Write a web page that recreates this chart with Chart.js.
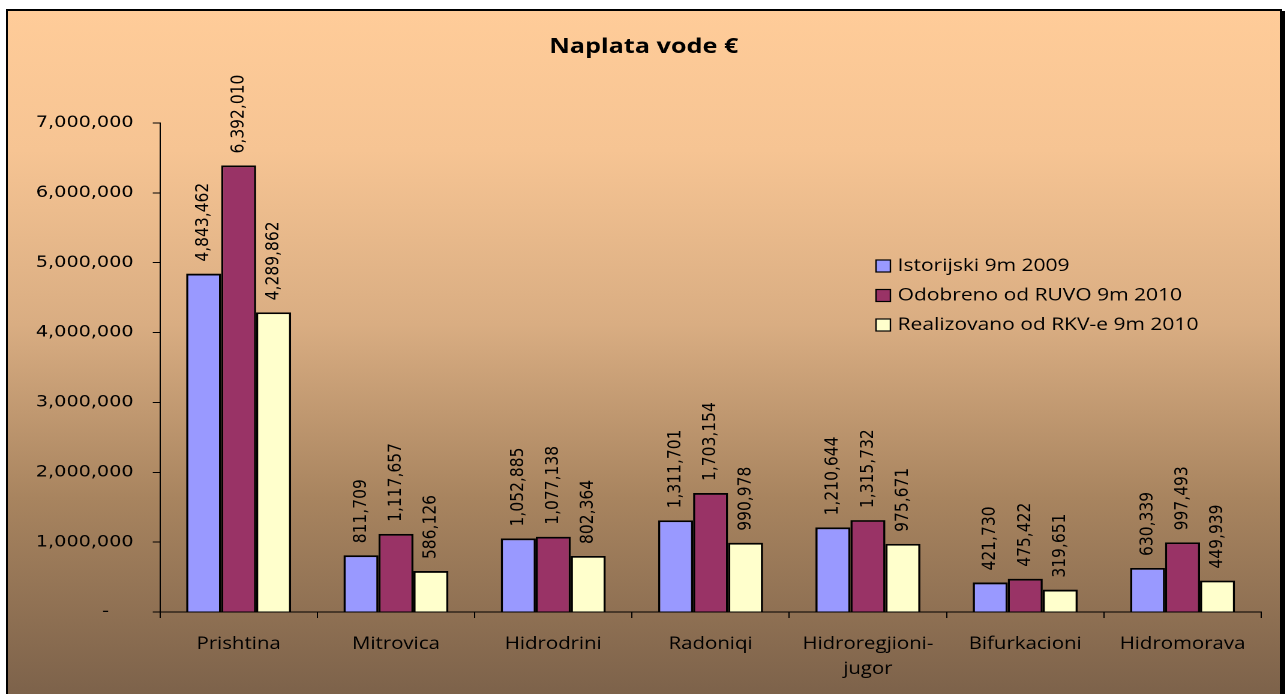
<!DOCTYPE html>
<html>
<head>
<meta charset="utf-8">
<script src="https://cdn.jsdelivr.net/npm/chart.js@4/dist/chart.umd.min.js"></script>
<style>
  html, body { margin: 0; padding: 0; background: #ffffff; overflow: hidden; }
  body { width: 1288px; height: 694px; position: relative; }
  #frame {
    position: absolute; left: 6px; top: 9px; width: 1276px; height: 700px;
    box-sizing: border-box; border: 2px solid #000;
    box-shadow: 3px 2px 0 #000;
    background: linear-gradient(to bottom, #FFCC99 0%, #F6C493 20%, #D9AD82 45%, #A8845F 70%, #7A6049 100%);
  }
  #wrap {
    position: absolute; left: 0; top: 0; width: 1073px; height: 694px;
    transform: scaleX(1.2); transform-origin: 0 0;
  }
</style>
</head>
<body>
<div id="frame"></div>
<div id="wrap"><canvas id="c" width="1073" height="694"></canvas></div>
<script>
const titleText = 'Naplata vode €';
const categories = ['Prishtina', 'Mitrovica', 'Hidrodrini', 'Radoniqi', ['Hidroregjioni-', 'jugor'], 'Bifurkacioni', 'Hidromorava'];
const seriesNames = ['Istorijski 9m 2009', 'Odobreno od RUVO 9m 2010', 'Realizovano od RKV-e 9m 2010'];
const istorijski = [4843462, 811709, 1052885, 1311701, 1210644, 421730, 630339];
const odobreno = [6392010, 1117657, 1077138, 1703154, 1315732, 475422, 997493];
const realizovano = [4289862, 586126, 802364, 990978, 975671, 319651, 449939];
const yTicks = [0, 1000000, 2000000, 3000000, 4000000, 5000000, 6000000, 7000000];
const colors = ['#9999FF', '#993366', '#FFFFCC'];

const fmt = v => v.toLocaleString('en-US');

const labelPlugin = {
  id: 'barLabels',
  afterDatasetsDraw(chart) {
    const ctx = chart.ctx;
    ctx.save();
    ctx.font = '15.5px "DejaVu Sans"';
    ctx.fillStyle = '#000';
    ctx.textAlign = 'left';
    ctx.textBaseline = 'middle';
    chart.data.datasets.forEach((ds, di) => {
      const meta = chart.getDatasetMeta(di);
      meta.data.forEach((bar, i) => {
        ctx.save();
        ctx.translate(bar.x, bar.y - 12);
        ctx.rotate(-Math.PI / 2);
        ctx.fillText(fmt(ds.data[i]), 0, 0);
        ctx.restore();
      });
    });
    ctx.restore();
  }
};

const decorPlugin = {
  id: 'decor',
  afterDraw(chart) {
    const ctx = chart.ctx;
    ctx.save();
    // title
    ctx.font = 'bold 21px "Open Sans"';
    ctx.fillStyle = '#000';
    ctx.textAlign = 'center';
    ctx.textBaseline = 'middle';
    ctx.fillText(titleText, chart.width / 2, 47);
    // legend
    ctx.font = '17.5px "Open Sans"';
    ctx.textAlign = 'left';
    const lx = 730, ly = 266, step = 29.5;
    seriesNames.forEach((name, i) => {
      const y = ly + i * step;
      ctx.fillStyle = colors[i];
      ctx.fillRect(lx, y - 6, 12, 12);
      ctx.strokeStyle = '#000';
      ctx.lineWidth = 1.2;
      ctx.strokeRect(lx, y - 6, 12, 12);
      ctx.fillStyle = '#000';
      ctx.fillText(name, lx + 18, y);
    });
    ctx.restore();
  }
};

new Chart(document.getElementById('c'), {
  type: 'bar',
  data: {
    labels: categories,
    datasets: [
      { label: seriesNames[0], data: istorijski, backgroundColor: colors[0], borderColor: '#000', borderWidth: 1.8 },
      { label: seriesNames[1], data: odobreno, backgroundColor: colors[1], borderColor: '#000', borderWidth: 1.8 },
      { label: seriesNames[2], data: realizovano, backgroundColor: colors[2], borderColor: '#000', borderWidth: 1.8 }
    ]
  },
  options: {
    responsive: false,
    devicePixelRatio: 2,
    animation: false,
    layout: { padding: { top: 123, left: 0, right: 22, bottom: 0 } },
    datasets: { bar: { categoryPercentage: 0.667, barPercentage: 1.0 } },
    plugins: {
      legend: { display: false },
      title: { display: false },
      tooltip: { enabled: false }
    },
    scales: {
      x: {
        grid: { display: true, drawOnChartArea: false, offset: true, tickLength: 6, color: '#000', lineWidth: 1 },
        border: { display: true, color: '#000', width: 1 },
        ticks: { color: '#000', font: { family: 'Open Sans', size: 17, lineHeight: 1.45 }, padding: 14, maxRotation: 0, autoSkip: false },
        afterFit(scale) { scale.height = 82; }
      },
      y: {
        min: 0, max: 7000000,
        afterBuildTicks(scale) { scale.ticks = yTicks.map(v => ({ value: v })); },
        grid: { display: true, drawOnChartArea: false, tickLength: 6, color: '#000', lineWidth: 1 },
        border: { display: true, color: '#000', width: 1 },
        ticks: {
          color: '#000', font: { family: 'DejaVu Sans', size: 16 }, padding: 16,
          callback: v => v === 0 ? '-    ' : fmt(v)
        },
        afterFit(scale) { scale.width = 133.3; }
      }
    }
  },
  plugins: [labelPlugin, decorPlugin]
});
</script>
</body>
</html>
